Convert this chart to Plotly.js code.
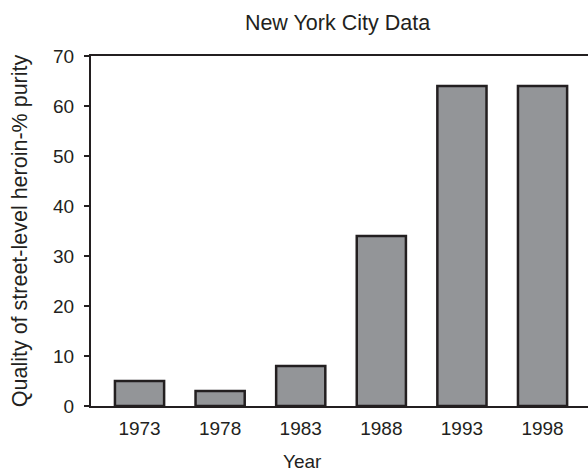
<!DOCTYPE html>
<html><head><meta charset="utf-8">
<script src="https://cdn.plot.ly/plotly-3.0.1.min.js"></script>
<style>html,body{margin:0;padding:0;background:#fff}#c{width:588px;height:471px}</style>
</head><body><div id="c"></div>
<script>
const years = ['1973','1978','1983','1988','1993','1998'];
const purity = [5, 3, 8, 34, 64, 64];
const yTicks = [0,10,20,30,40,50,60,70];

const ink = '#231f20';
const font = 'Liberation Sans, Arial, sans-serif';
const data = [{
  type: 'bar', x: years, y: purity,
  marker: {color: '#939598', line: {color: ink, width: 2.5}},
  hoverinfo: 'skip'
}];
const layout = {
  width: 588, height: 471,
  margin: {l: 91, r: 0, t: 56, b: 65},
  paper_bgcolor: '#fff', plot_bgcolor: '#fff',
  showlegend: false, bargap: 0.39,
  font: {family: font, color: ink, size: 18},
  title: {text: 'New York City Data', font: {size: 21.5, color: ink, family: font}, x: (337.5-91)/497, xanchor: 'center', xref: 'paper', y: 1 - 22/471, yanchor: 'middle'},
  xaxis: {type: 'category', range: [-0.602, 5.564], showgrid: false, zeroline: false,
    showline: true, linecolor: ink, linewidth: 2, mirror: true, ticks: '', ticklabelstandoff: 4,
    tickfont: {size: 19, color: ink, family: font}, fixedrange: true},
  yaxis: {range: [0, 70], tickvals: yTicks, showgrid: false, zeroline: false,
    showline: true, linecolor: ink, linewidth: 2, ticks: 'outside', ticklen: 5, tickwidth: 2, tickcolor: ink,
    ticklabelstandoff: 6,
    tickfont: {size: 19, color: ink, family: font},
    title: {text: 'Quality of street-level heroin-% purity', font: {size: 21.5, color: ink, family: font}, standoff: 20},
    automargin: false, fixedrange: true},
  annotations: [{text: 'Year', xref: 'paper', yref: 'paper', x: (302-91)/497, y: -(462-406.5)/350.5,
    xanchor: 'center', yanchor: 'middle', showarrow: false, font: {size: 19, color: ink, family: font}}]
};
Plotly.newPlot('c', data, layout, {staticPlot: true, displayModeBar: false});
</script></body></html>
